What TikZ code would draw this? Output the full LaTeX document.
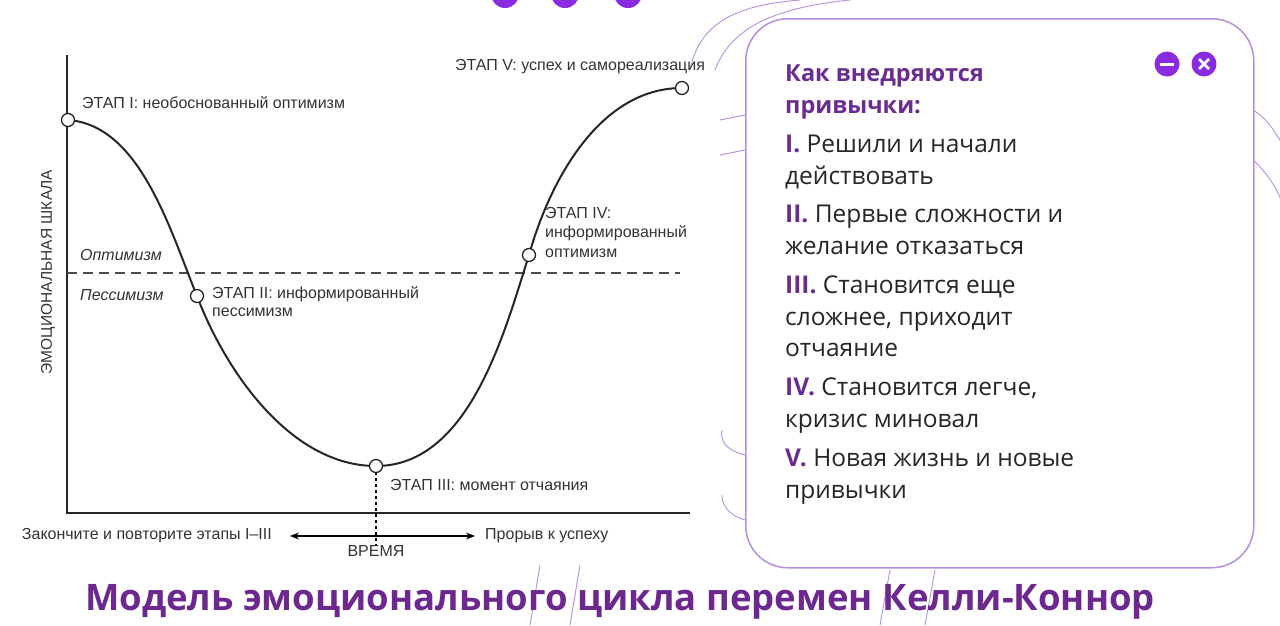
\documentclass[tikz,border=0pt]{standalone}
\usepackage{fontspec}
\setmainfont{Liberation Sans}
\newfontfamily\panelfont{Open Sans}
\usetikzlibrary{arrows.meta,calc}
\definecolor{pdark}{HTML}{6B2C91}
\definecolor{pviolet}{HTML}{8A2BE2}
\definecolor{pline}{HTML}{B48FE0}
\tikzset{
 lbl/.style={font=\fontsize{16}{18}\selectfont, text=black!80, inner sep=0pt, anchor=west, align=left},
 pt/.style={circle, draw=black!85, fill=white, line width=1.3pt, minimum size=13pt, inner sep=0pt},
 item/.style={font=\panelfont\fontsize{24.5}{31.5}\selectfont, inner sep=0pt, anchor=north west, align=left, text=black!85},
 deco/.style={draw=pline, line width=0.9pt},
}
\newcommand{\rn}[1]{{\color{pdark}\bfseries #1}}
\begin{document}
\begin{tikzpicture}[x=1pt,y=-1pt]
\useasboundingbox (0,0) rectangle (1280,625);
% decorative lines
\draw[deco] (690,70) .. controls (700,20) and (740,5) .. (800,0);
\draw[deco] (715,70) .. controls (730,30) and (770,8) .. (850,0);
\draw[deco] (1253,110) .. controls (1270,120) and (1280,140) .. (1285,150);
\draw[deco] (1253,160) .. controls (1270,175) and (1280,195) .. (1285,210);
\draw[deco] (720,120) -- (745,115);
\draw[deco] (720,155) -- (745,150);
\draw[deco] (745,455) .. controls (725,450) and (720,440) .. (722,430);
\draw[deco] (745,520) .. controls (728,515) and (722,505) .. (722,495);
\draw[deco] (540,565) -- (530,625);
\draw[deco] (580,565) -- (570,625);
\draw[deco] (890,570) -- (880,625);
\draw[deco] (935,570) -- (925,625);
% top dots
\foreach \x/\n in {505/d1,565/d2,628/d3} \node[circle, fill=pviolet, minimum size=28pt, inner sep=0pt] (\n) at (\x,-6) {};
% axes
\coordinate (ytop) at (67,55); \coordinate (orig) at (67,513); \coordinate (xend) at (690,513);
\draw[line width=2pt, black!85] (ytop) -- (orig) -- (xend);
\coordinate (dl) at (67,273); \coordinate (dr) at (680,273);
\draw[dash pattern=on 10pt off 6pt, line width=1.2pt, black!70] (dl) -- (dr);
\node[font=\fontsize{15.5}{17}\selectfont, text=black!80, rotate=90] (ylab) at (48,272) {ЭМОЦИОНАЛЬНАЯ ШКАЛА};
% curve
\coordinate (p1) at (68,120); \coordinate (p2) at (197,296); \coordinate (p3) at (376,466);
\coordinate (p4) at (529,255); \coordinate (p5) at (682,88);
\draw[line width=2pt, black!85] (p1) .. controls (140,125) and (170,230) .. (p2)
  .. controls (225,370) and (290,466) .. (p3)
  .. controls (470,466) and (505,330) .. (p4)
  .. controls (550,180) and (600,88) .. (p5);
\coordinate (tb) at (376,545);
\draw[dash pattern=on 3pt off 3pt, line width=1.2pt] (p3) -- (tb);
\foreach \p/\n in {p1/c1,p2/c2,p3/c3,p4/c4,p5/c5} \node[pt] (\n) at (\p) {};
% labels
\node[lbl] (l1) at (82,103) {ЭТАП I: необоснованный оптимизм};
\node[lbl] (l5) at (455,67) {ЭТАП V: успех и самореализация};
\node[lbl, font=\fontsize{16}{18}\selectfont\itshape] (opt) at (80,255) {Оптимизм};
\node[lbl, font=\fontsize{16}{18}\selectfont\itshape] (pes) at (80,295) {Пессимизм};
\node[lbl, anchor=north west, font=\fontsize{16}{18}\selectfont] (l2) at (212,286) {ЭТАП II: информированный\\пессимизм};
\node[lbl, anchor=north west, font=\fontsize{16}{19.5}\selectfont] (l4) at (545,207) {ЭТАП IV:\\информированный\\оптимизм};
\node[lbl] (l3) at (390,485) {ЭТАП III: момент отчаяния};
\node[lbl, anchor=east] (left) at (272,536) {Закончите и повторите этапы I--III};
\node[lbl] (right) at (485,536) {Прорыв к успеху};
\node[lbl, anchor=center] (time) at (376,551) {ВРЕМЯ};
\coordinate (al) at ($(left.east)+(18,0)$);
\coordinate (ar) at ($(right.west)+(-10,0)$);
\draw[{Stealth[length=9pt,width=7pt]}-{Stealth[length=9pt,width=7pt]}, line width=1.2pt] (al) -- (ar);
% panel
\node[draw=pline, line width=1.5pt, rounded corners=42pt, minimum width=508pt, minimum height=549pt, anchor=north west, fill=white] (panel) at (745,18) {};
\node[circle, fill=pviolet, minimum size=25pt, inner sep=0pt] (bmin) at (1167,64) {};
\draw[white, line width=3pt] ($(bmin)+(-7,0)$) -- ($(bmin)+(7,0)$);
\node[circle, fill=pviolet, minimum size=25pt, inner sep=0pt] (bx) at (1204,64) {};
\draw[white, line width=2.8pt] ($(bx)+(-5,-5)$) -- ($(bx)+(5,5)$) ($(bx)+(-5,5)$) -- ($(bx)+(5,-5)$);
\node[item, font=\panelfont\bfseries\fontsize{23.5}{32}\selectfont, text=pdark] (ptitle) at (785,65) {Как внедряются\\привычки:};
\node[item] (i1) at (785,135) {\rn{I.} Решили и начали\\действовать};
\node[item] (i2) at (785,205) {\rn{II.} Первые сложности и\\желание отказаться};
\node[item] (i3) at (785,276) {\rn{III.} Становится еще\\сложнее, приходит\\отчаяние};
\node[item] (i4) at (785,378) {\rn{IV.} Становится легче,\\кризис миновал};
\node[item] (i5) at (785,449) {\rn{V.} Новая жизнь и новые\\привычки};
% title
\node[font=\panelfont\bfseries\fontsize{36.5}{40}\selectfont, text=pdark!90!violet] (title) at (620,602) {Модель эмоционального цикла перемен Келли-Коннор};
\end{tikzpicture}
\end{document}
